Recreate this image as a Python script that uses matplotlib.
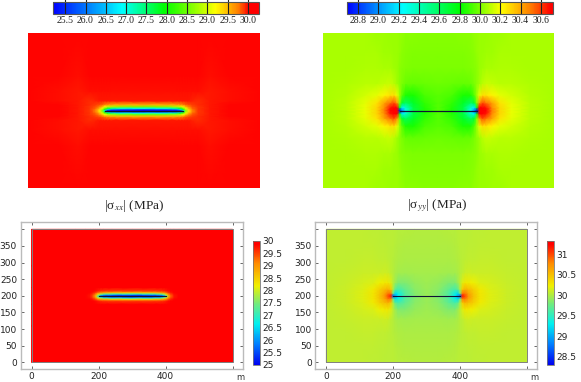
#!/usr/bin/env python3
import numpy as np
from matplotlib import pyplot as plt
from matplotlib.colors import LinearSegmentedColormap, Normalize
from matplotlib.cm import ScalarMappable

W, H = 581, 382

# lower left quadrant of each field
# (columns run from the left edge to mid plate, rows move away from the crack)
xx_x = [0, 80, 130, 160, 175, 185, 192, 198, 206, 215, 240, 300]
xx_dy = [0, 3, 6, 10, 15, 25, 50, 90, 200]
xx_vals = [
    [30.0, 30.0, 29.97, 29.9, 29.75, 29.3, 28.6, 27.0, 25.2, 25.0, 25.0, 25.0],
    [30.0, 30.0, 29.97, 29.9, 29.75, 29.35, 28.8, 27.8, 26.6, 26.0, 25.7, 25.5],
    [30.0, 30.0, 29.97, 29.9, 29.8, 29.5, 29.1, 28.5, 27.8, 27.4, 27.1, 27.0],
    [30.0, 30.0, 29.97, 29.9, 29.85, 29.7, 29.5, 29.2, 28.95, 28.8, 28.6, 28.5],
    [30.0, 30.0, 29.97, 29.92, 29.88, 29.85, 29.8, 29.72, 29.62, 29.58, 29.55, 29.55],
    [30.0, 29.99, 29.96, 29.93, 29.94, 29.96, 29.97, 29.97, 29.96, 29.96, 29.96, 29.96],
    [30.0, 29.99, 29.97, 29.98, 29.99, 29.99, 29.99, 29.99, 29.99, 29.99, 29.99, 29.99],
    [30.0, 30.0, 29.99, 30.0, 30.0, 30.0, 30.0, 30.0, 30.0, 30.0, 30.0, 30.0],
    [30.0, 30.0, 30.0, 30.0, 30.0, 30.0, 30.0, 30.0, 30.0, 30.0, 30.0, 30.0],
]

yy_x = [0, 60, 110, 140, 160, 175, 185, 193, 200, 206, 215, 235, 265, 300]
yy_dy = [0, 8, 20, 40, 70, 110, 150, 200]
yy_vals = [
    [30.07, 30.1, 30.18, 30.3, 30.5, 30.72, 31.0, 31.2, 28.6, 28.95, 29.3, 29.65, 29.85, 29.94],
    [30.07, 30.1, 30.18, 30.3, 30.47, 30.66, 30.85, 30.85, 29.75, 29.2, 29.35, 29.66, 29.86, 29.94],
    [30.07, 30.1, 30.17, 30.27, 30.42, 30.52, 30.58, 30.45, 30.0, 29.7, 29.6, 29.72, 29.88, 29.94],
    [30.07, 30.09, 30.14, 30.17, 30.23, 30.27, 30.28, 30.18, 30.05, 29.95, 29.85, 29.84, 29.92, 29.95],
    [30.07, 30.08, 30.1, 30.1, 30.11, 30.12, 30.1, 30.06, 30.03, 30.0, 29.97, 29.96, 29.97, 29.98],
    [30.07, 30.07, 30.08, 30.08, 30.07, 30.07, 30.06, 30.05, 30.03, 30.02, 30.01, 30.0, 30.0, 30.0],
    [30.07, 30.07, 30.07, 30.07, 30.06, 30.06, 30.05, 30.05, 30.04, 30.03, 30.02, 30.01, 30.01, 30.01],
    [30.07, 30.07, 30.07, 30.06, 30.06, 30.05, 30.05, 30.05, 30.04, 30.04, 30.03, 30.03, 30.02, 30.02],
]

crack_x = [200, 400]
crack_y = [200, 200]

top_xx_ticks = [25.5, 26.0, 26.5, 27.0, 27.5, 28.0, 28.5, 29.0, 29.5, 30.0]
top_yy_ticks = [28.8, 29.0, 29.2, 29.4, 29.6, 29.8, 30.0, 30.2, 30.4, 30.6]
bot_xx_ticks = [25, 25.5, 26, 26.5, 27, 27.5, 28, 28.5, 29, 29.5, 30]
bot_yy_ticks = [28.5, 29, 29.5, 30, 30.5, 31]
bot_xx_labels = ['25', '25.5', '26', '26.5', '27', '27.5', '28', '28.5', '29', '29.5', '30']
bot_yy_labels = ['28.5', '29', '29.5', '30', '30.5', '31']
x_ticks = [0, 200, 400, 600]
y_ticks = [0, 50, 100, 150, 200, 250, 300, 350, 400]
y_labels = ['0', '50', '100', '150', '200', '250', '300', '350', '']

top_xx_nodes = [(0, '#0000ff'), (0.17, '#0080ff'), (0.335, '#00ffff'), (0.44, '#00ff80'), (0.54, '#00ff00'),
                (0.67, '#80ff00'), (0.79, '#ffff00'), (0.90, '#ff8000'), (0.95, '#ff0000'), (1, '#ff0000')]
top_yy_nodes = [(0, '#0000ff'), (0.13, '#0080ff'), (0.27, '#00ffff'), (0.41, '#00ff80'), (0.55, '#00ff00'),
                (0.65, '#80ff00'), (0.75, '#ffff00'), (0.89, '#ff8000'), (0.99, '#ff0000'), (1, '#ff0000')]
bot_nodes = [(0, '#0000f0'), (0.17, '#0080ff'), (0.33, '#00f0f0'), (0.5, '#78eb78'), (0.64, '#f0f000'),
             (0.82, '#ff8c00'), (0.975, '#ff0000'), (1, '#ff0000')]

top_cmaps = [LinearSegmentedColormap.from_list('topxx', top_xx_nodes),
             LinearSegmentedColormap.from_list('topyy', top_yy_nodes)]
bot_cmap = LinearSegmentedColormap.from_list('bot', bot_nodes)

plt.rcParams['font.family'] = ['DejaVu Sans']
plt.rcParams['mathtext.fontset'] = 'stix'


def full(xs, dys, vals):
    # mirror the quadrant about the crack line and the mid plate
    vals = np.array(vals)
    xs = np.array(xs, dtype=float)
    dys = np.array(dys, dtype=float)
    x = np.r_[xs, 600 - xs[-2::-1]]
    y = np.r_[200 - dys[::-1], 200 + dys[1:]]
    z = np.hstack([vals, vals[:, -2::-1]])
    z = np.vstack([z[::-1], z[1:]])
    return x, y, z


def px_axes(fig, x0, y0, x1, y1):
    return fig.add_axes([x0 / W, 1 - y1 / H, (x1 - x0) / W, (y1 - y0) / H])


fig = plt.figure(figsize=(W / 100, H / 100), dpi=100)

fields = [full(xx_x, xx_dy, xx_vals), full(yy_x, yy_dy, yy_vals)]

# top row: bare maps with horizontal bars
top_boxes = [(28, 33, 260, 188), (323, 33, 553.5, 188)]
top_bars = [(53, 2, 259, 14), (347, 2, 553, 14)]
top_ranges = [(25.2, 30.27), (28.69, 30.72)]
top_ticks = [top_xx_ticks, top_yy_ticks]
titles = [(134, r'|σ$_{xx}$| (MPa)'), (437, r'|σ$_{yy}$| (MPa)')]

for i in range(2):
    x, y, z = fields[i]
    norm = Normalize(*top_ranges[i])
    ax = px_axes(fig, *top_boxes[i])
    ax.pcolormesh(x, y, z, cmap=top_cmaps[i], norm=norm, shading='gouraud')
    ax.plot(crack_x, crack_y, color='#111133', lw=0.9)
    ax.set_xlim(0, 600)
    ax.set_ylim(0, 400)
    ax.axis('off')

    cax = px_axes(fig, *top_bars[i])
    cb = fig.colorbar(ScalarMappable(norm=norm, cmap=top_cmaps[i]), cax=cax, orientation='horizontal')
    cb.set_ticks(top_ticks[i], labels=['%.1f' % t for t in top_ticks[i]])
    cb.ax.tick_params(length=12, width=0.8, direction='in', color='#222222', pad=1.5, labelsize=7,
                      labelcolor='#222222')
    for lab in cb.ax.get_xticklabels():
        lab.set_family('Liberation Serif')
    cb.outline.set_edgecolor('#555555')
    cb.outline.set_linewidth(0.8)

    fig.text(titles[i][0] / W, 1 - 206 / H, titles[i][1], family='Liberation Serif', fontsize=9.5,
             ha='center', va='center', color='#222222')

# bottom row: framed axes with vertical bars
bot_boxes = [(20.5, 222, 243, 369), (315.3, 222, 537.3, 369)]
bot_limits = [(-33, 631), (-33, 631)]
bot_bars = [(253, 241, 260, 365), (547, 241, 554, 365)]
bot_ranges = [(25, 30), (28.3, 31.33)]
bot_ticks = [bot_xx_ticks, bot_yy_ticks]
bot_labels = [bot_xx_labels, bot_yy_labels]
m_x = [240, 534]

for i in range(2):
    x, y, z = fields[i]
    norm = Normalize(*bot_ranges[i])
    ax = px_axes(fig, *bot_boxes[i])
    ax.pcolormesh(x, y, z, cmap=bot_cmap, norm=norm, shading='gouraud')
    ax.plot(crack_x, crack_y, color='#111133', lw=0.8)
    ax.plot([0, 600, 600, 0, 0], [0, 0, 400, 400, 0], color='#808080', lw=0.7)
    ax.set_xlim(*bot_limits[i])
    ax.set_ylim(-20, 422)
    ax.set_xticks(x_ticks, labels=['0', '200', '400', ''])
    ax.set_yticks(y_ticks, labels=y_labels)
    ax.tick_params(direction='in', top=True, right=True, length=2, width=0.7, color='#666666',
                   labelsize=6.5, labelcolor='#222222', pad=2.5)
    for s in ax.spines.values():
        s.set_edgecolor('#bbbbbb')
        s.set_linewidth(1.0)
    fig.text(m_x[i] / W, 1 - 378 / H, 'm', fontsize=6, ha='center', va='center', color='#333333')

    cax = px_axes(fig, *bot_bars[i])
    cb = fig.colorbar(ScalarMappable(norm=norm, cmap=bot_cmap), cax=cax)
    cb.set_ticks(bot_ticks[i], labels=bot_labels[i])
    cb.ax.tick_params(length=0, pad=2, labelsize=6.5, labelcolor='#222222')
    cb.outline.set_edgecolor('#777777')
    cb.outline.set_linewidth(0.6)

plt.savefig('out.png', dpi=100)
